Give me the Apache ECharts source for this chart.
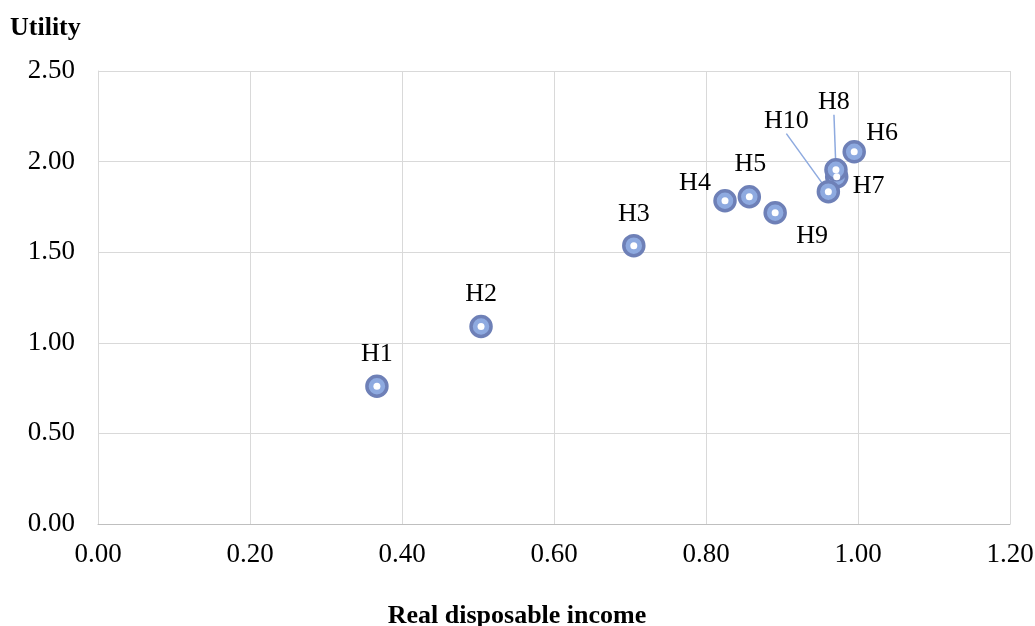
<!DOCTYPE html>
<html>
<head>
<meta charset="utf-8">
<script src="https://cdn.jsdelivr.net/npm/echarts@6/dist/echarts.min.js"></script>
<style>
html,body{margin:0;padding:0;background:#fff;}
#chart{width:1035px;height:626px;}
</style>
</head>
<body>
<div id="chart"></div>
<script>
const households = ['H1','H2','H3','H4','H5','H6','H7','H8','H9','H10'];
const income  = [0.367, 0.504, 0.705, 0.825, 0.857, 0.995, 0.972, 0.971, 0.891, 0.961];
const utility = [0.760, 1.090, 1.536, 1.784, 1.806, 2.054, 1.916, 1.955, 1.718, 1.834];
const xTicks = [0, 0.2, 0.4, 0.6, 0.8, 1.0, 1.2];
const yTicks = [0, 0.5, 1.0, 1.5, 2.0, 2.5];

// label placement (pixel offsets from point)
const labelOffsets = {
  H1:[0,-32], H2:[0,-32], H3:[0,-32], H4:[-30,-18], H5:[1,-33],
  H6:[28,-19], H7:[32,9], H8:[-2,-68], H9:[37,23], H10:[-42,-71]
};
const withLeader = ['H8','H10'];

const pts = households.map((h,i)=>({
  name:h, value:[income[i], utility[i]],
  labelLine:{show: withLeader.includes(h)}
}));
const FONT = '"Liberation Serif","Times New Roman",serif';
const FS = 27;

const chart = echarts.init(document.getElementById('chart'));
chart.setOption({
  animation:false,
  grid:{left:98,right:25,top:71,bottom:102,containLabel:false,outerBoundsMode:'none'},
  xAxis:{
    type:'value', min:0, max:1.2, interval:0.2,
    name:'Real disposable income', nameLocation:'middle', nameGap:79,
    nameTextStyle:{fontFamily:FONT,fontSize:26,fontWeight:'bold',color:'#000',padding:[0,74,0,0]},
    axisLine:{show:true,lineStyle:{color:'#bfbfbf',width:1}},
    axisTick:{show:false},
    axisLabel:{fontFamily:FONT,fontSize:FS,color:'#000',margin:17,formatter:v=>v.toFixed(2)},
    splitLine:{show:true,lineStyle:{color:'#d9d9d9',width:1}}
  },
  yAxis:{
    type:'value', min:0, max:2.5, interval:0.5,
    name:'Utility', nameLocation:'end', nameGap:30,
    nameTextStyle:{fontFamily:FONT,fontSize:26,fontWeight:'bold',color:'#000',align:'left',padding:[0,0,0,-88]},
    axisLine:{show:true,lineStyle:{color:'#d9d9d9',width:1}},
    axisTick:{show:false},
    axisLabel:{fontFamily:FONT,fontSize:FS,color:'#000',margin:23,formatter:v=>v.toFixed(2)},
    splitLine:{show:true,lineStyle:{color:'#d9d9d9',width:1}}
  },
  series:[
    {
      type:'scatter', data:pts, symbol:'circle', symbolSize:20,
      itemStyle:{color:'#8eaae0',borderColor:'#6e80b7',borderWidth:3.5,opacity:1},
      label:{show:true,position:'inside',formatter:p=>p.name,fontFamily:FONT,fontSize:26,color:'#000'},
      labelLayout:function(p){
        const h = households[p.dataIndex];
        const o = labelOffsets[h];
        return {dx:o[0],dy:o[1]};
      },
      labelLine:{show:false,lineStyle:{color:'#8eaadf',width:1.5},length2:0},
      z:2
    },
    {
      type:'scatter', data:households.map((h,i)=>[income[i],utility[i]]),
      symbol:'circle', symbolSize:7, silent:true,
      itemStyle:{color:'#ffffff',opacity:1}, z:3
    }
  ]
});
</script>
</body>
</html>
